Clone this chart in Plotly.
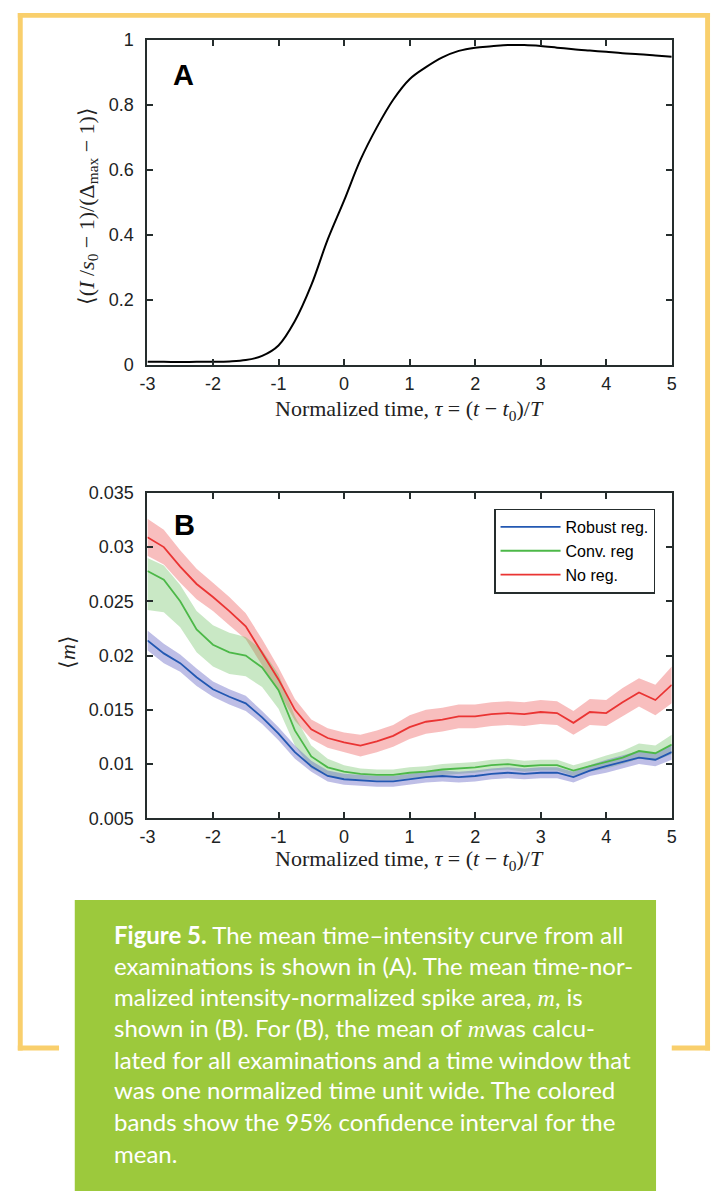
import plotly.graph_objects as go

W, H = 717, 1201

# ---------------- Data ----------------
# Panel A: mean normalized time-intensity curve
tau_a = [-3, -2.75, -2.5, -2.25, -2, -1.75, -1.5, -1.25, -1, -0.75, -0.5, -0.25, 0,
         0.25, 0.5, 0.75, 1, 1.25, 1.5, 1.75, 2, 2.25, 2.5, 2.75, 3, 3.25, 3.5,
         3.75, 4, 4.25, 4.5, 4.75, 5]
intensity = [0.010, 0.010, 0.009, 0.010, 0.010, 0.011, 0.015, 0.028, 0.060, 0.135,
             0.245, 0.385, 0.505, 0.630, 0.730, 0.815, 0.878, 0.915, 0.945, 0.965,
             0.975, 0.979, 0.983, 0.983, 0.980, 0.975, 0.970, 0.966, 0.962, 0.958,
             0.955, 0.951, 0.947]

# Panel B: mean spike area m
tau_b = tau_a
robust = [0.0214, 0.0202, 0.0193, 0.0180, 0.0169, 0.0162, 0.0156, 0.0143, 0.0128,
          0.0111, 0.0098, 0.0089, 0.0086, 0.0085, 0.0084, 0.0084, 0.0086, 0.0088,
          0.0089, 0.0088, 0.0089, 0.0091, 0.0092, 0.0091, 0.0092, 0.0092, 0.0088,
          0.0094, 0.0098, 0.0102, 0.0106, 0.0104, 0.0111]
robust_ci = [0.0009, 0.0009, 0.0008, 0.0008, 0.0007, 0.0007, 0.0007, 0.0006, 0.0006,
             0.0006, 0.0005, 0.0005, 0.0005, 0.0005, 0.0005, 0.0005, 0.0005, 0.0005,
             0.0005, 0.0005, 0.0005, 0.0005, 0.0005, 0.0005, 0.0005, 0.0005, 0.0005,
             0.0005, 0.0006, 0.0006, 0.0006, 0.0006, 0.0007]
conv = [0.0278, 0.0270, 0.0250, 0.0224, 0.0210, 0.0203, 0.0200, 0.0189, 0.0168,
        0.0131, 0.0107, 0.0097, 0.0093, 0.0091, 0.0090, 0.0090, 0.0092, 0.0093,
        0.0095, 0.0096, 0.0097, 0.0099, 0.0100, 0.0098, 0.0099, 0.0099, 0.0094,
        0.0098, 0.0102, 0.0106, 0.0112, 0.0110, 0.0118]
conv_ci_up = [0.0012, 0.0013, 0.0015, 0.0017, 0.0018, 0.0018, 0.0017, 0.0016, 0.0015,
              0.0013, 0.0010, 0.0008, 0.0006, 0.0005, 0.0005, 0.0005, 0.0005, 0.0005,
              0.0005, 0.0005, 0.0005, 0.0005, 0.0005, 0.0005, 0.0005, 0.0005, 0.0005,
              0.0005, 0.0006, 0.0006, 0.0007, 0.0007, 0.0009]
conv_ci_dn = [0.0036, 0.0030, 0.0024, 0.0021, 0.0020, 0.0020, 0.0019, 0.0018, 0.0017,
              0.0014, 0.0011, 0.0008, 0.0006, 0.0005, 0.0005, 0.0005, 0.0005, 0.0005,
              0.0005, 0.0005, 0.0005, 0.0005, 0.0005, 0.0005, 0.0005, 0.0005, 0.0005,
              0.0005, 0.0006, 0.0006, 0.0007, 0.0007, 0.0009]
noreg = [0.0309, 0.0300, 0.0282, 0.0266, 0.0254, 0.0241, 0.0227, 0.0203, 0.0178,
         0.0150, 0.0132, 0.0124, 0.0120, 0.0117, 0.0121, 0.0126, 0.0134, 0.0139,
         0.0141, 0.0144, 0.0144, 0.0146, 0.0147, 0.0146, 0.0148, 0.0147, 0.0138,
         0.0148, 0.0147, 0.0157, 0.0166, 0.0159, 0.0173]
noreg_ci = [0.0017, 0.0016, 0.0015, 0.0014, 0.0013, 0.0013, 0.0012, 0.0012, 0.0011,
            0.0010, 0.0009, 0.0009, 0.0009, 0.0010, 0.0010, 0.0010, 0.0011, 0.0011,
            0.0011, 0.0011, 0.0011, 0.0011, 0.0011, 0.0011, 0.0011, 0.0011, 0.0011,
            0.0012, 0.0012, 0.0013, 0.0013, 0.0014, 0.0017]

series_names = ["Robust reg.", "Conv. reg", "No reg."]

x_ticks = [-3, -2, -1, 0, 1, 2, 3, 4, 5]
x_ticktext = ["-3", "-2", "-1", "0", "1", "2", "3", "4", "5"]
ya_ticks = [0, 0.2, 0.4, 0.6, 0.8, 1]
ya_ticktext = ["0", "0.2", "0.4", "0.6", "0.8", "1"]
yb_ticks = [0.005, 0.01, 0.015, 0.02, 0.025, 0.03, 0.035]
yb_ticktext = ["0.005", "0.01", "0.015", "0.02", "0.025", "0.03", "0.035"]

M = "<span style='font-family:Liberation Serif'><i>m</i></span>"
caption_lines = [
    "<b>Figure 5.</b> The mean time–intensity curve from all",
    "examinations is shown in (A). The mean time-nor-",
    "malized intensity-normalized spike area, " + M + ", is",
    "shown in (B). For (B), the mean of " + M + "was calcu-",
    "lated for all examinations and a time window that",
    "was one normalized time unit wide. The colored",
    "bands show the 95% confidence interval for the",
    "mean.",
]

# ---------------- Helpers ----------------
def px(x):
    return x / W

def py(y):
    return 1 - y / H

AX = "#252d2d"
YELLOW = "#F9CF6C"
GREEN_BOX = "#9CC93C"

fig = go.Figure()

# Panel A
fig.add_trace(go.Scatter(x=tau_a, y=intensity, mode="lines", line=dict(color="black", width=2, shape="spline"),
                         showlegend=False, xaxis="x", yaxis="y"))

# Panel B bands
def band(x, lo, hi, color):
    fig.add_trace(go.Scatter(x=list(x) + list(x)[::-1], y=list(hi) + list(lo)[::-1], fill="toself",
                             fillcolor=color, line=dict(width=0), mode="lines", hoverinfo="skip",
                             showlegend=False, xaxis="x2", yaxis="y2"))

band(tau_b, [m - c for m, c in zip(noreg, noreg_ci)], [m + c for m, c in zip(noreg, noreg_ci)], "rgba(240,110,110,0.45)")
band(tau_b, [m - c for m, c in zip(conv, conv_ci_dn)], [m + c for m, c in zip(conv, conv_ci_up)], "rgba(100,190,90,0.35)")
band(tau_b, [m - c for m, c in zip(robust, robust_ci)], [m + c for m, c in zip(robust, robust_ci)], "rgba(100,100,195,0.42)")

line_colors = ["#2358B2", "#4CB848", "#EA3433"]
for name, vals, col in zip(series_names, [robust, conv, noreg], line_colors):
    fig.add_trace(go.Scatter(x=tau_b, y=vals, mode="lines", name=name, line=dict(color=col, width=1.8),
                             xaxis="x2", yaxis="y2"))

axis_common = dict(showline=True, linecolor=AX, linewidth=2, mirror="ticks", ticks="inside",
                   ticklen=6, tickwidth=1.5, tickcolor=AX, showgrid=False, zeroline=False,
                   tickfont=dict(family="Liberation Sans", size=18, color="#1c2323"))

fig.update_layout(
    width=W, height=H, autosize=False,
    margin=dict(l=0, r=0, t=0, b=0),
    paper_bgcolor="white", plot_bgcolor="white",
    xaxis=dict(domain=[px(142), px(676)], range=[-3, 5], tickvals=x_ticks, ticktext=x_ticktext,
               anchor="y", ticklabelstandoff=1, **axis_common),
    yaxis=dict(domain=[py(361), py(30)], range=[0, 1], tickvals=ya_ticks, ticktext=ya_ticktext,
               anchor="x", ticklabelstandoff=8, **axis_common),
    xaxis2=dict(domain=[px(142), px(676)], range=[-3, 5], tickvals=x_ticks, ticktext=x_ticktext,
                anchor="y2", ticklabelstandoff=1, **axis_common),
    yaxis2=dict(domain=[py(822), py(491)], range=[0.005, 0.035], tickvals=yb_ticks, ticktext=yb_ticktext,
                anchor="x2", ticklabelstandoff=8, **axis_common),
    legend=dict(x=px(659), y=py(507), xanchor="right", yanchor="top", bgcolor="white",
                bordercolor=AX, borderwidth=1.5, font=dict(family="Liberation Sans", size=16, color="black"),
                tracegroupgap=0, itemwidth=60),
)

serif = "Liberation Serif"
ann = []
ann.append(dict(x=px(179), y=py(66), text="<b>A</b>", font=dict(family="Liberation Sans", size=29, color="black")))
ann.append(dict(x=px(180), y=py(524), text="<b>B</b>", font=dict(family="Liberation Sans", size=29, color="black")))
ann.append(dict(x=px(81), y=py(200), textangle=-90,
                text="⟨(<i>I</i> /<i>s</i><sub>0</sub> − 1)/(Δ<sub>max</sub> − 1)⟩",
                font=dict(family=serif, size=22, color="#222")))
ann.append(dict(x=px(409), y=py(407), text="Normalized time, <i>τ</i> = (<i>t</i> − <i>t</i><sub>0</sub>)/<i>T</i>",
                font=dict(family=serif, size=22, color="#222")))
ann.append(dict(x=px(409), y=py(864), text="Normalized time, <i>τ</i> = (<i>t</i> − <i>t</i><sub>0</sub>)/<i>T</i>",
                font=dict(family=serif, size=22, color="#222")))
ann.append(dict(x=px(60), y=py(653), textangle=-90, text="⟨<i>m</i>⟩",
                font=dict(family=serif, size=22, color="#222")))
for a in ann:
    a.update(xref="paper", yref="paper", showarrow=False, xanchor="center", yanchor="middle")

line_y = [940, 972, 1003, 1035, 1067, 1098, 1130, 1163]
for txt, yy in zip(caption_lines, line_y):
    ann.append(dict(x=px(106), y=py(yy), xref="paper", yref="paper", showarrow=False, xanchor="left",
                    yanchor="middle", text=txt, font=dict(family="Lato", size=24, color="white")))
fig.update_layout(annotations=ann)

# Frame and caption box
shapes = []
def rect(x0, y0, x1, y1, color):
    shapes.append(dict(type="rect", xref="paper", yref="paper", x0=px(x0), x1=px(x1), y0=py(y1), y1=py(y0),
                       fillcolor=color, line=dict(width=0), layer="below"))

rect(10, 3, 715, 8, YELLOW)        # top
rect(10, 3, 15, 1058, YELLOW)      # left
rect(710, 3, 715, 1058, YELLOW)    # right
rect(10, 1053, 52, 1058, YELLOW)   # bottom-left
rect(676, 1053, 715, 1058, YELLOW) # bottom-right
rect(68, 905, 660, 1201, GREEN_BOX)
fig.update_layout(shapes=shapes)

fig.write_html("out.html", config={"displayModeBar": False},
               post_script="document.body.style.margin='0';document.body.style.padding='0';"
                           "document.documentElement.style.overflow='hidden';")
